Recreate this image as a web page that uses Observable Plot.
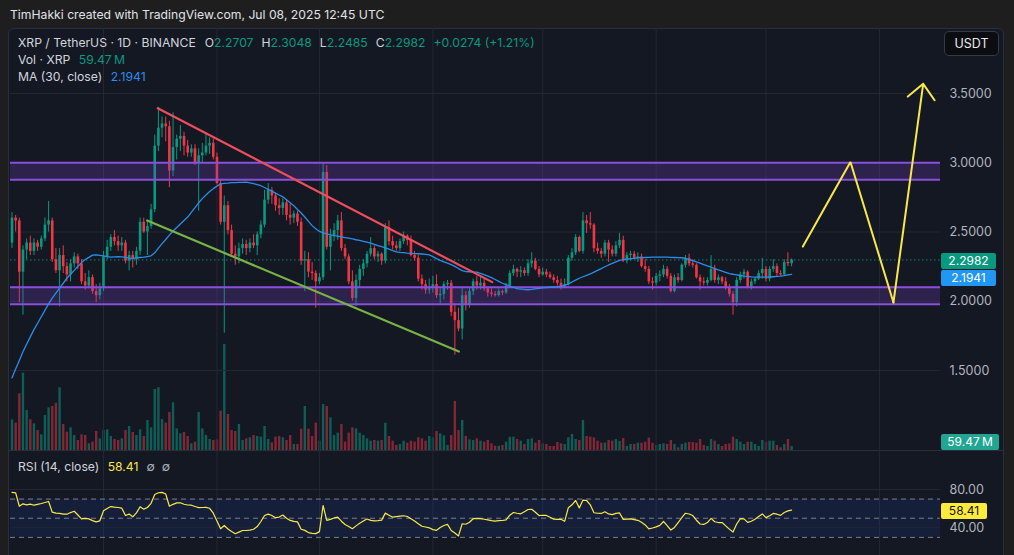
<!DOCTYPE html>
<html>
<head>
<meta charset="utf-8">
<script src="https://cdn.jsdelivr.net/npm/d3@7"></script>
<script src="https://cdn.jsdelivr.net/npm/@observablehq/plot@0.6"></script>
<style>
  html, body { margin: 0; padding: 0; background: #1e1e1e; }
  #page { position: relative; width: 1014px; height: 555px; overflow: hidden; background: #1e1e1e;
          font-family: Inter, "Noto Sans", Roboto, sans-serif; }
  #header { position: absolute; left: 10px; top: 7px; font-size: 12.2px; color: #e0e2e8; white-space: nowrap; }
  #frame { position: absolute; left: 8px; top: 28px; width: 996px; height: 545px; background: #141823;
           border: 1px solid #2b2f3a; border-radius: 6px; box-sizing: border-box; }
  #sep { position: absolute; left: 8px; top: 450px; width: 996px; height: 1px; background: #2a2e39; }
  .legend { position: absolute; left: 18px; font-size: 12.2px; color: #d1d4dc; white-space: nowrap; line-height: 16px; }
  .legend .v { color: #089981; }
  .legend .k { margin-left: 8px; }
  .tag { position: absolute; height: 16px; line-height: 16px; font-size: 12px; text-align: center;
         border-radius: 2px; white-space: nowrap; }
  #usdt { position: absolute; left: 944px; top: 31px; width: 55px; height: 25px; box-sizing: border-box;
          background: #0c0d10; border: 1px solid #363a45; border-radius: 5px; color: #e8e9ec;
          font-size: 12.5px; line-height: 23px; text-align: center; }
</style>
</head>
<body>
<div id="page">
  <div id="header">TimHakki created with TradingView.com, Jul 08, 2025 12:45 UTC</div>
  <div id="frame"></div>
  <div id="sep"></div>
</div>
<script>
// Daily XRP/USDT candles: [open, high, low, close, volume (M XRP), MA(30), RSI(14)]
const dec24 = [
  [2.42,2.64,2.38,2.60,460,1.447,77.0],[2.60,2.62,2.50,2.58,410,1.510,76.4],[2.58,2.60,1.99,2.21,850,1.572,62.5],
  [2.21,2.40,1.90,2.37,1160,1.636,65.0],[2.37,2.45,2.30,2.42,600,1.689,64.0],[2.42,2.47,2.33,2.36,460,1.743,64.7],
  [2.36,2.45,2.33,2.42,400,1.795,63.6],[2.42,2.44,2.36,2.39,300,1.841,64.5],[2.39,2.47,2.37,2.45,235,1.888,65.4],
  [2.45,2.60,2.43,2.55,525,1.934,66.4],[2.55,2.72,2.50,2.58,640,1.981,67.5],[2.58,2.60,2.28,2.30,660,2.023,56.3],
  [2.30,2.38,2.20,2.22,710,2.058,55.3],[2.22,2.38,1.96,2.33,940,2.094,55.1],[2.33,2.40,2.20,2.25,390,2.130,54.2],
  [2.25,2.28,2.14,2.19,275,2.166,54.2],[2.19,2.30,2.14,2.27,340,2.195,55.9],[2.27,2.35,2.24,2.32,225,2.223,57.3],
  [2.32,2.34,2.23,2.27,150,2.251,53.4],[2.27,2.30,2.12,2.14,235,2.279,49.4],[2.14,2.20,2.08,2.11,225,2.301,49.8],
  [2.11,2.22,2.09,2.17,100,2.317,49.3],[2.17,2.19,2.05,2.07,125,2.333,47.5],[2.07,2.12,1.99,2.04,285,2.335,46.2],
  [2.04,2.13,2.01,2.09,175,2.331,47.3]
];
const jan25 = [
  [2.09,2.36,2.07,2.32,300,2.327,57.8],[2.32,2.44,2.30,2.39,310,2.322,60.2],[2.39,2.48,2.36,2.46,210,2.318,62.2],
  [2.46,2.51,2.40,2.43,165,2.320,61.6],[2.43,2.47,2.36,2.40,150,2.322,61.2],[2.40,2.46,2.36,2.42,175,2.321,60.5],
  [2.42,2.44,2.27,2.29,300,2.316,52.8],[2.29,2.36,2.22,2.33,360,2.311,54.3],[2.33,2.36,2.24,2.30,270,2.310,51.5],
  [2.30,2.39,2.26,2.36,225,2.313,55.6],[2.36,2.60,2.33,2.57,310,2.316,62.0],[2.57,2.60,2.49,2.50,210,2.318,59.5],
  [2.50,2.58,2.33,2.54,450,2.323,61.2],[2.54,2.70,2.52,2.66,340,2.328,65.6],[2.66,3.20,2.64,3.12,915,2.350,74.8],
  [3.12,3.40,3.08,3.25,940,2.384,76.6],[3.25,3.33,3.18,3.28,465,2.416,77.0],[3.28,3.33,3.15,3.26,410,2.446,75.3],
  [3.26,3.30,2.82,2.94,570,2.477,62.5],[2.94,3.36,2.90,3.11,715,2.507,64.5],[3.11,3.20,3.02,3.17,325,2.532,66.0],
  [3.17,3.27,3.08,3.19,250,2.558,66.1],[3.19,3.22,3.05,3.12,270,2.583,64.6],[3.12,3.16,3.04,3.07,210,2.608,63.8],
  [3.07,3.13,3.04,3.10,100,2.642,63.6],[3.10,3.13,2.98,3.00,125,2.676,62.2],[3.00,3.10,2.65,3.05,570,2.711,61.1],
  [3.05,3.14,3.00,3.07,325,2.741,61.2],[3.07,3.21,3.05,3.12,225,2.767,61.4],[3.12,3.18,3.06,3.14,165,2.793,60.4],
  [3.14,3.17,3.02,3.04,150,2.813,55.3]
];
const feb25 = [
  [3.04,3.07,2.84,2.85,160,2.831,47.1],[2.85,2.88,2.55,2.57,590,2.848,39.0],[2.57,2.76,1.77,2.69,1590,2.851,42.4],
  [2.69,2.72,2.48,2.51,540,2.853,38.7],[2.51,2.55,2.32,2.34,300,2.856,36.1],[2.34,2.40,2.26,2.32,285,2.857,33.8],
  [2.32,2.42,2.27,2.38,390,2.858,35.5],[2.38,2.45,2.34,2.41,150,2.859,37.2],[2.41,2.44,2.33,2.38,175,2.860,37.2],
  [2.38,2.45,2.35,2.42,190,2.855,37.6],[2.42,2.48,2.38,2.40,225,2.849,38.5],[2.40,2.50,2.33,2.48,210,2.842,41.3],
  [2.48,2.58,2.45,2.55,200,2.834,46.6],[2.55,2.80,2.53,2.73,360,2.821,52.9],[2.73,2.85,2.70,2.80,165,2.808,54.3],
  [2.80,2.82,2.70,2.76,115,2.795,52.9],[2.76,2.78,2.65,2.69,200,2.781,50.6],[2.69,2.74,2.62,2.67,210,2.767,51.2],
  [2.67,2.74,2.62,2.71,190,2.754,53.3],[2.71,2.73,2.58,2.62,150,2.733,50.0],[2.62,2.70,2.55,2.60,225,2.711,47.7],
  [2.60,2.65,2.56,2.63,90,2.689,46.7],[2.63,2.65,2.54,2.57,90,2.662,46.2],[2.57,2.60,2.26,2.29,320,2.637,38.5],
  [2.29,2.36,2.07,2.30,660,2.608,37.3],[2.30,2.35,2.17,2.21,320,2.577,35.0],[2.21,2.28,2.15,2.20,210,2.546,34.2],
  [2.20,2.22,1.95,2.14,410,2.523,33.9]
];
const mar25 = [
  [2.14,2.20,2.12,2.17,140,2.504,36.0],[2.17,3.00,2.15,2.93,690,2.494,63.3],[2.93,2.98,2.37,2.39,660,2.487,47.7],
  [2.39,2.52,2.22,2.47,490,2.480,48.8],[2.47,2.56,2.43,2.51,225,2.474,50.3],[2.51,2.62,2.44,2.58,260,2.470,51.2],
  [2.58,2.64,2.36,2.38,390,2.465,46.9],[2.38,2.41,2.30,2.32,125,2.460,43.4],[2.32,2.34,2.12,2.14,260,2.455,41.3],
  [2.14,2.22,2.00,2.02,340,2.450,39.1],[2.02,2.19,1.96,2.15,325,2.444,42.0],[2.15,2.26,2.10,2.23,260,2.439,44.8],
  [2.23,2.30,2.18,2.27,225,2.433,47.0],[2.27,2.36,2.24,2.34,175,2.427,49.2],[2.34,2.46,2.32,2.38,140,2.419,47.7],
  [2.38,2.40,2.30,2.32,150,2.411,47.2],[2.32,2.36,2.28,2.34,140,2.402,47.4],[2.34,2.35,2.26,2.29,150,2.394,48.0],
  [2.29,2.56,2.27,2.53,410,2.386,55.3],[2.53,2.58,2.40,2.43,210,2.376,53.2],[2.43,2.47,2.37,2.40,140,2.366,51.1],
  [2.40,2.43,2.36,2.38,75,2.357,51.6],[2.38,2.45,2.36,2.43,90,2.353,52.1],[2.43,2.50,2.41,2.47,140,2.351,52.6],
  [2.47,2.48,2.40,2.44,110,2.348,51.8],[2.44,2.47,2.32,2.33,140,2.346,49.4],[2.33,2.36,2.29,2.31,125,2.344,47.0],
  [2.31,2.33,2.14,2.16,190,2.343,44.3],[2.16,2.19,2.08,2.12,175,2.341,41.6],[2.12,2.15,2.05,2.08,140,2.339,40.8],
  [2.08,2.16,2.05,2.09,210,2.335,40.0]
];
const apr25 = [
  [2.09,2.18,2.06,2.12,190,2.322,38.1],[2.12,2.19,2.02,2.04,285,2.308,37.4],[2.04,2.09,1.98,2.05,250,2.295,40.3],
  [2.05,2.14,2.01,2.12,220,2.285,42.4],[2.12,2.15,2.08,2.13,75,2.275,43.6],[2.13,2.15,1.89,1.92,225,2.265,37.2],
  [1.92,1.98,1.61,1.86,735,2.252,34.5],[1.86,1.95,1.78,1.80,300,2.236,31.5],[1.80,2.10,1.72,2.04,450,2.221,44.2],
  [2.04,2.07,1.93,1.97,210,2.214,43.7],[1.97,2.10,1.95,2.07,160,2.213,45.8],[2.07,2.16,2.04,2.14,150,2.211,49.5],
  [2.14,2.18,2.08,2.11,175,2.210,49.8],[2.11,2.18,2.08,2.13,140,2.201,49.5],[2.13,2.16,2.07,2.09,125,2.192,48.9],
  [2.09,2.10,2.03,2.06,150,2.181,48.3],[2.06,2.09,2.03,2.05,100,2.170,47.5],[2.05,2.07,2.03,2.04,65,2.157,47.0],
  [2.04,2.09,2.03,2.07,65,2.143,47.4],[2.07,2.08,2.04,2.06,75,2.130,47.6],[2.06,2.13,2.05,2.11,125,2.120,48.3],
  [2.11,2.22,2.10,2.20,200,2.110,53.2],[2.20,2.26,2.18,2.23,200,2.101,56.0],[2.23,2.24,2.17,2.21,165,2.091,55.2],
  [2.21,2.25,2.17,2.22,140,2.088,54.6],[2.22,2.24,2.18,2.20,90,2.085,56.8],[2.20,2.30,2.18,2.27,165,2.083,59.1],
  [2.27,2.35,2.24,2.29,175,2.086,59.3],[2.29,2.31,2.22,2.23,110,2.090,56.2],[2.23,2.25,2.17,2.19,150,2.093,52.8]
];
const may25 = [
  [2.19,2.24,2.18,2.21,100,2.096,53.1],[2.21,2.23,2.17,2.19,90,2.098,52.9],[2.19,2.21,2.16,2.17,60,2.101,51.0],
  [2.17,2.19,2.13,2.15,60,2.104,49.0],[2.15,2.18,2.11,2.13,120,2.106,48.8],[2.13,2.16,2.08,2.10,100,2.109,49.0],
  [2.10,2.16,2.09,2.12,90,2.116,46.8],[2.12,2.33,2.11,2.31,190,2.124,61.0],[2.31,2.38,2.29,2.35,240,2.139,64.0],
  [2.35,2.48,2.33,2.46,165,2.153,68.5],[2.46,2.47,2.35,2.36,150,2.166,60.8],[2.36,2.64,2.34,2.58,450,2.177,69.0],
  [2.58,2.62,2.49,2.56,210,2.187,68.5],[2.56,2.64,2.52,2.55,200,2.197,64.0],[2.55,2.56,2.35,2.38,190,2.210,55.7],
  [2.38,2.42,2.34,2.36,140,2.223,55.2],[2.36,2.38,2.31,2.34,110,2.236,55.0],[2.34,2.44,2.32,2.42,110,2.249,56.7],
  [2.42,2.44,2.28,2.37,150,2.262,54.5],[2.37,2.40,2.32,2.34,140,2.273,53.7],[2.34,2.43,2.32,2.40,165,2.284,55.1],
  [2.40,2.49,2.38,2.44,135,2.295,55.5],[2.44,2.47,2.28,2.29,180,2.300,48.8],[2.29,2.35,2.27,2.33,60,2.304,49.0],
  [2.33,2.36,2.29,2.34,90,2.307,49.4],[2.34,2.36,2.30,2.31,90,2.310,48.6],[2.31,2.35,2.28,2.32,110,2.314,47.8],
  [2.32,2.34,2.24,2.25,110,2.315,45.8],[2.25,2.30,2.21,2.23,125,2.316,43.0],[2.23,2.25,2.12,2.14,185,2.317,38.8],
  [2.14,2.17,2.08,2.13,110,2.318,39.8]
];
const jun25 = [
  [2.13,2.20,2.11,2.18,75,2.318,41.0],[2.18,2.22,2.14,2.19,90,2.318,42.5],[2.19,2.26,2.17,2.23,100,2.318,46.6],
  [2.23,2.25,2.16,2.18,90,2.318,42.2],[2.18,2.20,2.06,2.07,150,2.317,37.7],[2.07,2.19,2.06,2.17,90,2.316,40.4],
  [2.17,2.20,2.13,2.15,40,2.315,45.4],[2.15,2.27,2.14,2.26,90,2.314,50.5],[2.26,2.33,2.24,2.31,110,2.309,55.2],
  [2.31,2.34,2.25,2.27,120,2.301,54.4],[2.27,2.30,2.24,2.26,120,2.293,52.8],[2.26,2.27,2.16,2.17,110,2.284,47.9],
  [2.17,2.19,2.08,2.14,165,2.275,44.0],[2.14,2.17,2.11,2.13,75,2.265,43.5],[2.13,2.17,2.11,2.15,60,2.255,45.5],
  [2.15,2.33,2.14,2.23,165,2.246,49.8],[2.23,2.26,2.13,2.15,140,2.236,46.3],[2.15,2.19,2.12,2.17,90,2.226,45.5],
  [2.17,2.18,2.12,2.14,60,2.217,45.5],[2.14,2.17,2.08,2.10,90,2.208,42.0],[2.10,2.12,2.03,2.05,100,2.200,38.6],
  [2.05,2.07,1.90,1.99,200,2.195,35.6],[1.99,2.17,1.96,2.15,165,2.191,44.0],[2.15,2.21,2.13,2.19,125,2.186,49.6],
  [2.19,2.23,2.16,2.21,90,2.182,49.3],[2.21,2.22,2.09,2.10,125,2.179,45.6],[2.10,2.16,2.08,2.14,125,2.176,46.8],
  [2.14,2.17,2.12,2.16,90,2.174,49.0],[2.16,2.22,2.15,2.20,60,2.174,51.8],[2.20,2.31,2.16,2.23,150,2.174,54.5]
];
const jul25 = [
  [2.23,2.25,2.14,2.16,125,2.174,50.6],[2.16,2.25,2.14,2.23,140,2.175,52.5],[2.23,2.30,2.21,2.25,140,2.177,55.0],
  [2.25,2.27,2.18,2.20,75,2.179,54.2],[2.20,2.22,2.18,2.19,40,2.181,53.0],[2.19,2.30,2.18,2.28,90,2.185,56.0],
  [2.28,2.35,2.25,2.2707,165,2.190,57.7],[2.2707,2.3048,2.2485,2.2982,59.47,2.1941,58.41]
];
const firstDay = "2024-12-07";
// Session change shown in the header line
const dayChange = 0.0274;
const dayChangePct = 1.21;

// Scale and annotation values
const xDomain = ["2024-12-06T14:10:00Z", "2025-08-17T16:30:00Z"];
const monthStarts = ["2025-01-01", "2025-02-01", "2025-03-01", "2025-04-01", "2025-05-01", "2025-06-01", "2025-07-01", "2025-08-01"];
const priceTicks = [1.5, 2.0, 2.5, 3.0, 3.5];
const rsiTicks = [40, 80];
const rsiLevels = [70, 50, 30];
const zones = [{lo: 2.877, hi: 3.0}, {lo: 1.979, hi: 2.101}];
const resistance = [{date: "2025-01-15T20:00:00Z", price: 3.394}, {date: "2025-04-17T05:00:00Z", price: 2.138}];
const support = [{date: "2025-01-12T22:30:00Z", price: 2.583}, {date: "2025-04-08T02:00:00Z", price: 1.637}];
const projection = [
  {date: "2025-07-11T02:00:00Z", price: 2.395},
  {date: "2025-07-24T02:00:00Z", price: 3.005},
  {date: "2025-08-04T20:00:00Z", price: 1.991},
  {date: "2025-08-12T23:00:00Z", price: 3.57}
];

const GREEN = "#089981", RED = "#f23645", GRID = "#232733", MA_BLUE = "#2b8de8", YELLOW = "#f9e84a";
const toDate = s => new Date(s);

const start = new Date(firstDay + "T00:00:00Z");
const bars = [].concat(dec24, jan25, feb25, mar25, apr25, may25, jun25, jul25).map((r, i) => ({
  date: d3.utcDay.offset(start, i),
  open: r[0], high: r[1], low: r[2], close: r[3], volume: r[4], ma: r[5], rsi: r[6]
}));
const up = bars.filter(d => d.close >= d.open);
const down = bars.filter(d => d.close < d.open);
const last = bars[bars.length - 1];

const months = monthStarts.map(s => new Date(s + "T00:00:00Z"));
const xScale = {type: "utc", domain: xDomain.map(toDate), range: [10, 940], axis: null};
const pt = arr => arr.map(d => ({date: toDate(d.date), price: d.price}));
const res = pt(resistance), sup = pt(support), proj = pt(projection);

const common = {
  width: 1014, marginLeft: 10, marginRight: 74,
  style: {background: "transparent", color: "#b2b5be", overflow: "visible"}
};

// Volume layer (drawn underneath the candles)
const volumePlot = Plot.plot({
  ...common, height: 450, marginTop: 28, marginBottom: 0,
  x: xScale,
  y: {domain: [0, 1620], range: [450, 342], axis: null},
  marks: [
    Plot.ruleX(up, {x: "date", y1: 0, y2: "volume", stroke: GREEN, strokeOpacity: 0.55, strokeWidth: 2.4}),
    Plot.ruleX(down, {x: "date", y1: 0, y2: "volume", stroke: RED, strokeOpacity: 0.5, strokeWidth: 2.4})
  ]
});

// Price pane
const pricePlot = Plot.plot({
  ...common, height: 450, marginTop: 28, marginBottom: 0,
  x: xScale,
  y: {domain: [1.5, 3.5], range: [370, 93], axis: null},
  marks: [
    Plot.ruleX(months, {stroke: GRID}),
    Plot.ruleY(priceTicks, {stroke: GRID}),
    Plot.ruleY([last.close], {stroke: GREEN, strokeDasharray: "1.5,2.5", strokeOpacity: 0.9}),
    Plot.ruleX(up, {x: "date", y1: "low", y2: "high", stroke: GREEN, strokeWidth: 1}),
    Plot.ruleX(down, {x: "date", y1: "low", y2: "high", stroke: RED, strokeWidth: 1}),
    Plot.ruleX(up, {x: "date", y1: "open", y2: "close", stroke: GREEN, strokeWidth: 2.6}),
    Plot.ruleX(down, {x: "date", y1: "open", y2: "close", stroke: RED, strokeWidth: 2.6}),
    Plot.rect(zones, {y1: "lo", y2: "hi", fill: "#7e43cc", fillOpacity: 0.24}),
    Plot.ruleY(zones.flatMap(z => [z.lo, z.hi]), {stroke: "#8a4fdc", strokeWidth: 2}),
    Plot.line(bars, {x: "date", y: "ma", stroke: MA_BLUE, strokeWidth: 1.3}),
    Plot.line(res, {x: "date", y: "price", stroke: "#ee4d5b", strokeWidth: 2.2}),
    Plot.line(sup, {x: "date", y: "price", stroke: "#79b347", strokeWidth: 2.2}),
    Plot.line(proj.slice(0, 3), {x: "date", y: "price", stroke: YELLOW, strokeWidth: 2, strokeLinejoin: "miter"}),
    Plot.arrow([{a: proj[2], b: proj[3]}], {
      x1: d => d.a.date, y1: d => d.a.price, x2: d => d.b.date, y2: d => d.b.price,
      stroke: YELLOW, strokeWidth: 2, headAngle: 85, headLength: 15
    }),
    Plot.text(priceTicks, {y: d => d, frameAnchor: "right", dx: 9, textAnchor: "start",
      text: d => d.toFixed(4), fill: "#b2b5be", fontSize: 12.5, fontFamily: "Inter, sans-serif"})
  ]
});

// RSI pane
const rsiPlot = Plot.plot({
  ...common, height: 105, marginTop: 0, marginBottom: 0,
  x: xScale,
  y: {domain: [40, 80], range: [77.3, 39], axis: null},
  marks: [
    Plot.ruleX(months, {stroke: GRID}),
    Plot.rect([{lo: 30, hi: 70}], {y1: "lo", y2: "hi", fill: "#2962ff", fillOpacity: 0.1}),
    Plot.ruleY(rsiTicks, {stroke: GRID}),
    Plot.ruleY(rsiLevels, {stroke: "#7c7f8a", strokeDasharray: "5,4"}),
    Plot.line(bars, {x: "date", y: "rsi", stroke: YELLOW, strokeWidth: 1.2}),
    Plot.text(rsiTicks, {y: d => d, frameAnchor: "right", dx: 9, textAnchor: "start",
      text: d => d.toFixed(2), fill: "#b2b5be", fontSize: 12.5, fontFamily: "Inter, sans-serif"})
  ]
});

const page = document.getElementById("page");
function place(el, left, top) {
  el.style.position = "absolute";
  el.style.left = left + "px";
  el.style.top = top + "px";
  page.appendChild(el);
  return el;
}
place(volumePlot, 0, 0);
place(pricePlot, 0, 0);
place(rsiPlot, 0, 450);

function html(markup, left, top, cls) {
  const d = document.createElement("div");
  if (cls) d.className = cls;
  d.innerHTML = markup;
  return place(d, left, top);
}
function scaleFn(plot, name) {
  const s = plot.scale(name);
  return s.apply ? v => s.apply(v) : d3.scaleLinear(s.domain, s.range);
}
const yPrice = scaleFn(pricePlot, "y");
const yRsi = scaleFn(rsiPlot, "y");

function tag(text, bg, fg, left, width, centerY) {
  const d = document.createElement("div");
  d.className = "tag";
  d.textContent = text;
  d.style.background = bg;
  d.style.color = fg;
  d.style.width = width + "px";
  return place(d, left, Math.round(centerY - 8));
}

// Legend
const fmt = d3.format(".4f");
html(`XRP / TetherUS · 1D · BINANCE<span class="k" style="margin-left:9px">O</span><span class="v">${fmt(last.open)}</span>` +
     `<span class="k">H</span><span class="v">${fmt(last.high)}</span>` +
     `<span class="k">L</span><span class="v">${fmt(last.low)}</span>` +
     `<span class="k">C</span><span class="v">${fmt(last.close)}</span>` +
     `<span class="k v">+${fmt(dayChange)} (+${dayChangePct.toFixed(2)}%)</span>`, 18, 35, "legend");
html(`Vol · XRP <span class="v" style="margin-left:5px">${last.volume.toFixed(2)}&#8201;M</span>`, 18, 52, "legend");
html(`MA (30, close) <span style="color:${MA_BLUE};margin-left:5px">${last.ma.toFixed(4)}</span>`, 18, 69, "legend");
html(`RSI (14, close) <span style="color:${YELLOW};margin-left:5px">${last.rsi.toFixed(2)}</span>` +
     `<span style="margin-left:8px;color:#b2b5be">∅&nbsp;&nbsp;∅</span>`, 18, 459, "legend");
const usdt = html("USDT", 944, 31);
usdt.id = "usdt";

// Value tags on the right scale
tag(fmt(last.close), GREEN, "#ffffff", 941, 55, yPrice(last.close) + 2);
tag(fmt(last.ma), "#2196f3", "#ffffff", 941, 55, yPrice(last.ma) + 4);
tag(`${last.volume.toFixed(2)}\u2009M`, "#22a592", "#ffffff", 941, 58, 441.7);
tag(last.rsi.toFixed(2), "#ffeb3b", "#131722", 941, 46, 450 + yRsi(last.rsi) + 1);
</script>
</body>
</html>
